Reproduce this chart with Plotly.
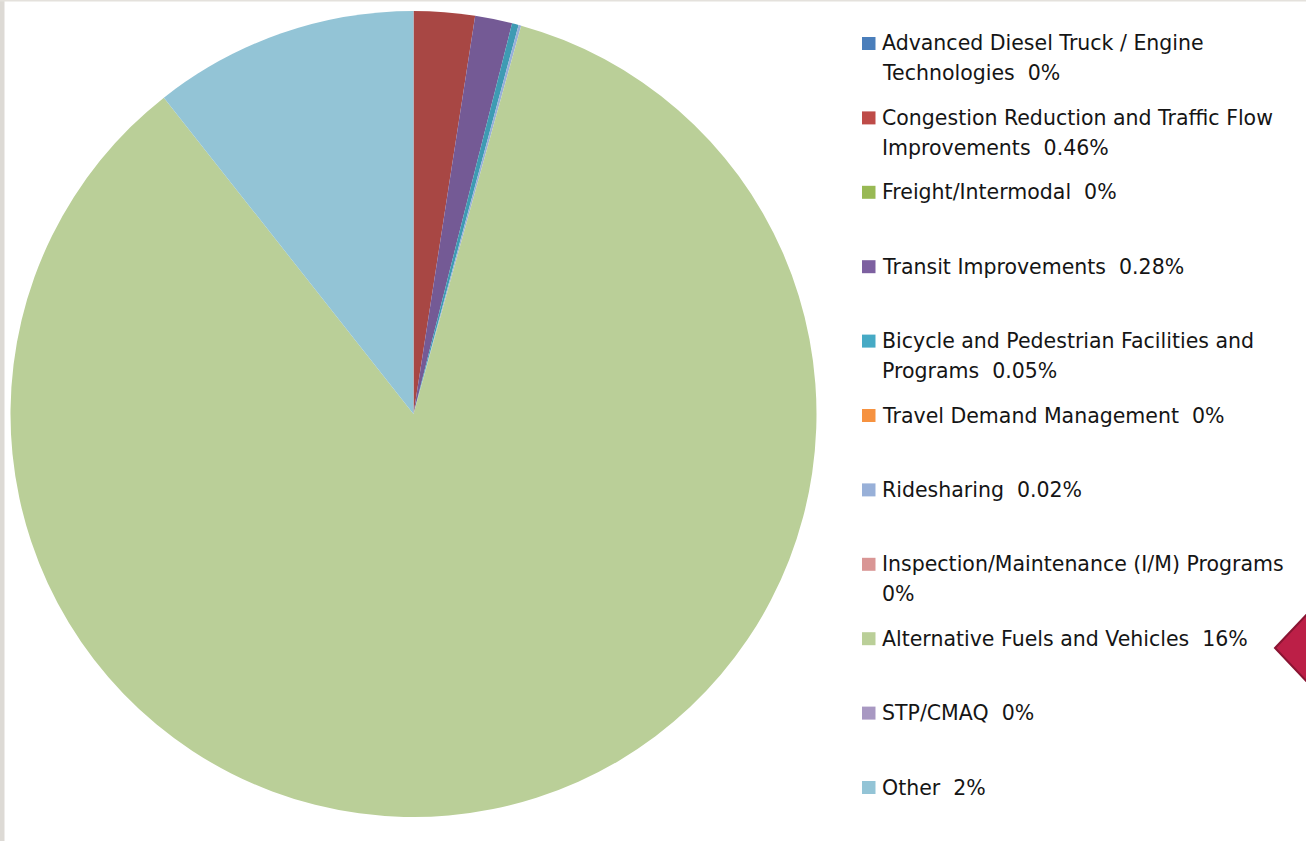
import plotly.graph_objects as go

W, H = 1306, 841

# ---- data ----
categories = [
    "Advanced Diesel Truck / Engine Technologies",
    "Congestion Reduction and Traffic Flow Improvements",
    "Freight/Intermodal",
    "Transit Improvements",
    "Bicycle and Pedestrian Facilities and Programs",
    "Travel Demand Management",
    "Ridesharing",
    "Inspection/Maintenance (I/M) Programs",
    "Alternative Fuels and Vehicles",
    "STP/CMAQ",
    "Other",
]
values = [0, 0.46, 0, 0.28, 0.05, 0, 0.02, 0, 16, 0, 2]
value_labels = ["0%", "0.46%", "0%", "0.28%", "0.05%", "0%", "0.02%", "0%", "16%", "0%", "2%"]
# legend text as wrapped in the reference
legend_lines = [
    ["Advanced Diesel Truck / Engine", "Technologies  0%"],
    ["Congestion Reduction and Traffic Flow", "Improvements  0.46%"],
    ["Freight/Intermodal  0%"],
    ["Transit Improvements  0.28%"],
    ["Bicycle and Pedestrian Facilities and", "Programs  0.05%"],
    ["Travel Demand Management  0%"],
    ["Ridesharing  0.02%"],
    ["Inspection/Maintenance (I/M) Programs", "0%"],
    ["Alternative Fuels and Vehicles  16%"],
    ["STP/CMAQ  0%"],
    ["Other  2%"],
]
slice_colors = ["#4A7EBB", "#A84744", "#98B954", "#745A95", "#3E9BB3",
                "#F69240", "#98B0D8", "#D99695", "#BACF98", "#A898C2", "#93C4D6"]
marker_colors = ["#4A7EBB", "#BE4B48", "#98B954", "#7D60A0", "#46AAC5",
                 "#F69240", "#98B0D8", "#D99695", "#BACF98", "#A898C2", "#93C4D6"]

# ---- pie ----
cx, cy, r = 413.5, 414.0, 403.0
fig = go.Figure(go.Pie(
    labels=categories,
    values=values,
    sort=False,
    direction="clockwise",
    rotation=0,
    textinfo="none",
    hoverinfo="label+percent",
    marker=dict(colors=slice_colors, line=dict(width=0)),
    showlegend=False,
    domain=dict(x=[(cx - r) / W, (cx + r) / W], y=[1 - (cy + r) / H, 1 - (cy - r) / H]),
))

def px(x):
    return x / W

def py(y):
    return 1 - y / H

shapes = []
annotations = []

# page decorations
shapes.append(dict(type="rect", xref="paper", yref="paper", x0=0, x1=px(4.5), y0=0, y1=1,
                   fillcolor="#DDDAD5", line=dict(width=0), layer="below"))
shapes.append(dict(type="rect", xref="paper", yref="paper", x0=0, x1=1, y0=py(1.5), y1=1,
                   fillcolor="#E4E1DC", line=dict(width=0), layer="below"))
shapes.append(dict(type="path", xref="paper", yref="paper",
                   path=f"M {px(1275)} {py(648)} L {px(1310)} {py(611)} L {px(1310)} {py(685)} Z",
                   fillcolor="#BC1F47", line=dict(color="#8A1533", width=2)))

# legend built from the data lists
y0, step, line_gap = 43.5, 74.4, 30
for i, lines in enumerate(legend_lines):
    yc = y0 + i * step
    shapes.append(dict(type="rect", xref="paper", yref="paper",
                       x0=px(862), x1=px(875.5), y0=py(yc + 6.5), y1=py(yc - 6.5),
                       fillcolor=marker_colors[i], line=dict(width=0)))
    for j, t in enumerate(lines):
        annotations.append(dict(xref="paper", yref="paper", x=px(880), y=py(yc + j * line_gap),
                                text=t, showarrow=False, xanchor="left", yanchor="middle",
                                font=dict(family="DejaVu Sans", size=20.5, color="#151515")))

fig.update_layout(
    width=W, height=H,
    margin=dict(l=0, r=0, t=0, b=0),
    paper_bgcolor="white",
    plot_bgcolor="white",
    shapes=shapes,
    annotations=annotations,
)
fig.write_html("out.html", config={"displayModeBar": False},
               post_script="document.body.style.margin='0';")
